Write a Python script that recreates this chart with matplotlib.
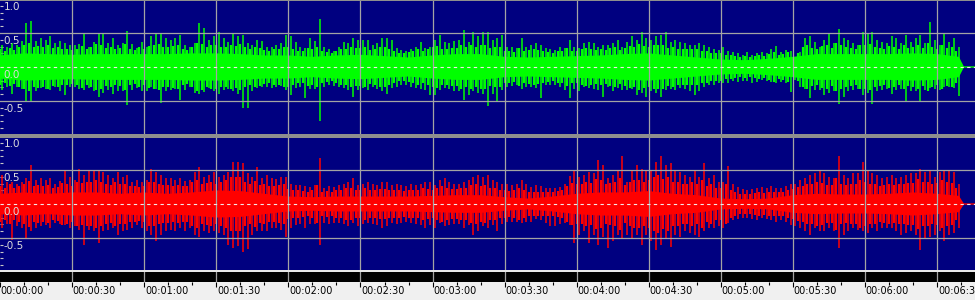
import numpy as np
import matplotlib
matplotlib.use("Agg")
import matplotlib.pyplot as plt

# ---------------- data read off the waveform display ----------------
# peak envelope per 2 s bin (bin centres 1, 3, ..., 399 s), amplitude in % of full scale
green_hi = [32, 30, 35, 33, 38, 64, 67, 38, 42, 40, 45, 36, 38, 35, 32, 32, 34, 50, 30, 37,
            50, 49, 35, 42, 32, 36, 53, 34, 28, 37, 30, 45, 49, 48, 42, 40, 42, 47, 33, 30,
            35, 64, 57, 40, 45, 52, 42, 37, 50, 45, 47, 35, 32, 40, 38, 30, 30, 32, 36, 47,
            45, 37, 30, 28, 42, 38, 71, 30, 27, 24, 30, 37, 35, 42, 40, 40, 40, 32, 35, 42,
            42, 40, 28, 25, 24, 27, 30, 37, 28, 30, 40, 47, 37, 35, 38, 40, 54, 37, 52, 45,
            52, 51, 40, 42, 47, 30, 30, 28, 43, 30, 32, 35, 33, 28, 27, 25, 30, 28, 40, 30,
            28, 35, 37, 35, 30, 32, 32, 35, 40, 30, 37, 45, 40, 52, 42, 40, 45, 47, 51, 37,
            40, 37, 35, 33, 32, 35, 32, 30, 27, 25, 30, 24, 22, 20, 18, 22, 18, 20, 22, 20,
            27, 31, 22, 25, 24, 15, 22, 42, 46, 37, 30, 40, 50, 35, 56, 42, 40, 35, 33, 52,
            50, 51, 40, 37, 35, 45, 42, 35, 47, 37, 42, 47, 35, 66, 40, 32, 49, 37, 43, 30]
green_lo = [34, 30, 39, 30, 32, 51, 52, 36, 31, 33, 34, 30, 36, 41, 30, 30, 32, 34, 31, 36,
            44, 38, 34, 39, 36, 35, 56, 34, 31, 36, 36, 30, 33, 53, 36, 34, 33, 49, 34, 30,
            38, 40, 37, 31, 36, 39, 34, 33, 36, 39, 61, 60, 36, 31, 30, 29, 31, 30, 28, 34,
            41, 31, 30, 46, 33, 32, 79, 29, 27, 28, 29, 31, 34, 44, 34, 31, 34, 29, 33, 36,
            39, 31, 29, 27, 26, 29, 31, 33, 34, 41, 41, 34, 31, 33, 36, 36, 49, 41, 36, 38,
            40, 58, 40, 52, 34, 30, 28, 27, 32, 30, 29, 31, 46, 27, 26, 27, 29, 34, 45, 32,
            36, 29, 31, 33, 34, 44, 30, 36, 31, 34, 34, 33, 41, 38, 44, 36, 38, 44, 34, 32,
            34, 31, 33, 36, 41, 36, 29, 27, 26, 24, 24, 24, 20, 22, 20, 20, 24, 22, 19, 20,
            22, 24, 22, 24, 37, 19, 30, 33, 46, 34, 34, 41, 38, 36, 55, 44, 36, 34, 33, 41,
            38, 55, 36, 34, 33, 39, 34, 33, 50, 36, 36, 52, 34, 31, 33, 34, 29, 30, 31, 42]
red_hi = [43, 32, 33, 30, 33, 38, 57, 36, 38, 35, 38, 30, 34, 48, 40, 35, 52, 42, 50, 50,
          50, 47, 42, 38, 47, 40, 42, 33, 36, 33, 35, 52, 47, 42, 38, 38, 35, 38, 34, 35,
          47, 55, 40, 43, 47, 40, 43, 47, 62, 62, 61, 45, 40, 55, 38, 42, 38, 37, 40, 40,
          30, 28, 28, 26, 25, 28, 67, 24, 26, 25, 28, 30, 33, 38, 28, 30, 33, 30, 28, 32,
          32, 28, 30, 28, 27, 30, 28, 30, 33, 32, 28, 35, 38, 32, 30, 30, 33, 35, 40, 42,
          40, 42, 35, 32, 30, 30, 28, 30, 36, 30, 25, 28, 27, 24, 23, 23, 25, 30, 41, 48,
          40, 42, 47, 45, 64, 57, 38, 42, 48, 71, 33, 48, 57, 52, 48, 48, 62, 71, 57, 60,
          48, 47, 43, 40, 48, 40, 61, 38, 42, 33, 33, 56, 30, 25, 22, 20, 22, 23, 25, 24,
          26, 24, 24, 26, 30, 30, 35, 38, 42, 46, 49, 45, 40, 38, 70, 42, 38, 45, 45, 62,
          48, 45, 42, 38, 40, 42, 38, 40, 42, 45, 45, 51, 47, 50, 40, 47, 50, 48, 47, 30]
red_lo = [36, 30, 53, 33, 36, 50, 40, 36, 33, 31, 36, 28, 30, 31, 36, 33, 38, 60, 38, 40,
          58, 40, 38, 36, 45, 40, 38, 36, 31, 36, 40, 45, 55, 45, 40, 38, 40, 36, 40, 35,
          45, 48, 40, 42, 40, 42, 45, 60, 65, 62, 70, 66, 45, 40, 40, 40, 36, 36, 38, 48,
          36, 31, 30, 36, 30, 30, 60, 28, 30, 28, 28, 30, 33, 28, 33, 30, 28, 30, 31, 36,
          33, 28, 30, 28, 26, 28, 30, 31, 36, 31, 36, 28, 33, 31, 30, 30, 36, 31, 45, 40,
          33, 36, 31, 40, 30, 27, 26, 26, 28, 26, 26, 22, 24, 28, 33, 33, 30, 28, 31, 58,
          45, 40, 58, 45, 60, 48, 65, 55, 45, 50, 45, 50, 45, 60, 45, 55, 68, 60, 50, 63,
          45, 48, 40, 43, 45, 48, 40, 36, 36, 33, 36, 28, 24, 22, 21, 21, 22, 24, 21, 22,
          24, 26, 24, 26, 31, 33, 36, 40, 45, 36, 40, 40, 36, 40, 65, 45, 40, 36, 38, 40,
          43, 36, 40, 36, 36, 36, 40, 45, 42, 40, 45, 68, 50, 48, 45, 40, 55, 45, 43, 36]

# secondary peaks, one per 2 s bin edge (0, 2, ..., 398 s), same scale
green_mid = [26, 24, 28, 25, 29, 33, 35, 30, 31, 29, 32, 28, 30, 27, 26, 25, 27, 31, 26, 29,
             34, 32, 28, 30, 27, 28, 34, 27, 25, 29, 26, 31, 33, 34, 30, 30, 31, 33, 27, 25,
             29, 36, 34, 30, 32, 33, 30, 29, 33, 31, 34, 30, 27, 29, 28, 25, 24, 26, 27, 30,
             29, 27, 24, 23, 28, 26, 30, 24, 22, 21, 24, 27, 27, 30, 28, 28, 29, 25, 27, 29,
             29, 27, 23, 21, 20, 22, 24, 27, 23, 26, 29, 31, 27, 26, 28, 28, 33, 29, 32, 30,
             33, 32, 28, 30, 30, 24, 23, 22, 28, 24, 25, 27, 25, 23, 22, 21, 24, 23, 28, 24,
             24, 27, 28, 27, 25, 27, 25, 28, 29, 25, 28, 31, 30, 34, 31, 30, 32, 33, 33, 28,
             29, 27, 27, 26, 27, 27, 24, 23, 21, 20, 21, 18, 17, 16, 15, 16, 15, 16, 17, 16,
             19, 22, 18, 19, 22, 14, 20, 29, 32, 28, 26, 31, 33, 28, 36, 32, 30, 28, 27, 33,
             33, 34, 30, 28, 27, 31, 30, 27, 32, 28, 30, 33, 28, 36, 29, 26, 32, 28, 30, 24]
red_mid = [27, 24, 30, 24, 26, 30, 34, 27, 28, 26, 28, 23, 25, 31, 29, 27, 33, 31, 32, 33,
           35, 32, 30, 28, 32, 29, 30, 26, 27, 25, 27, 33, 32, 30, 28, 28, 27, 28, 26, 27,
           32, 35, 29, 31, 32, 30, 32, 35, 40, 39, 40, 33, 29, 34, 28, 29, 27, 26, 28, 30,
           22, 20, 20, 19, 18, 20, 28, 18, 19, 18, 20, 21, 23, 24, 20, 21, 23, 21, 20, 22,
           22, 20, 21, 20, 19, 21, 20, 21, 23, 22, 21, 24, 26, 23, 22, 22, 24, 24, 28, 29,
           27, 28, 24, 23, 21, 20, 19, 20, 23, 20, 18, 18, 18, 17, 17, 18, 19, 21, 27, 31,
           29, 29, 33, 31, 37, 35, 30, 31, 33, 38, 28, 33, 36, 35, 33, 35, 40, 42, 37, 39,
           33, 33, 30, 29, 33, 30, 36, 27, 29, 24, 24, 30, 20, 17, 15, 14, 15, 16, 17, 16,
           18, 17, 17, 18, 21, 22, 25, 27, 30, 30, 32, 31, 28, 28, 38, 30, 28, 30, 30, 35,
           32, 30, 30, 27, 28, 29, 28, 30, 30, 31, 31, 37, 33, 33, 30, 31, 35, 32, 31, 24]

# dense body of the waveform, every 10 s (0 ... 400 s), then the silent tail
core_t = [0, 10, 20, 30, 40, 50, 60, 70, 80, 90, 100, 110, 120, 130, 140, 150, 160, 170, 180, 190,
          200, 210, 220, 230, 240, 250, 260, 270, 280, 290, 300, 310, 320, 330, 340, 350, 360, 370,
          380, 390, 399, 401, 405.7]
green_core = [17, 20, 19, 18, 19, 19, 19, 19, 20, 20, 19, 17, 17, 15, 17, 18, 16, 14, 17, 19,
              19, 15, 14, 15, 16, 17, 19, 20, 17, 14, 11, 10, 12, 15, 19, 19, 19, 19, 20, 19, 15, 1, 1]
red_core = [15, 17, 15, 17, 17, 15, 17, 15, 17, 20, 19, 15, 11, 10, 11, 11, 11, 11, 12, 13,
            13, 10, 8, 11, 15, 17, 17, 19, 15, 13, 8, 7, 8, 13, 15, 14, 14, 15, 17, 15, 12, 1, 1]

tick_secs = [0, 30, 60, 90, 120, 150, 180, 210, 240, 270, 300, 330, 360, 390]
tick_labels = ["00:00:00", "00:00:30", "00:01:00", "00:01:30", "00:02:00", "00:02:30", "00:03:00",
               "00:03:30", "00:04:00", "00:04:30", "00:05:00", "00:05:30", "00:06:00", "00:06:30"]
ylabels = [1.0, 0.5, 0.0, -0.5]

T_END = 405.7
W, H = 975, 300
BLUE = "#000080"
GRID = "#a4a4a4"

fig = plt.figure(figsize=(W / 100, H / 100), dpi=100, facecolor="#8e8e8e")


def px_axes(x0, y0, x1, y1):
    return fig.add_axes([x0 / W, 1 - y1 / H, (x1 - x0) / W, (y1 - y0) / H])


bins = np.arange(len(green_hi)) * 2 + 1
edges = np.arange(len(green_mid)) * 2


def channel(ax, hi, lo, mid, core, color, ylo, yhi):
    ax.set_facecolor(BLUE)
    ax.set_xlim(0, T_END)
    ax.set_ylim(ylo, yhi)
    for s in ax.spines.values():
        s.set_visible(False)
    core = np.array(core) / 100
    mid = np.array(mid) / 100
    ax.fill_between(core_t, -core, core, color=color, lw=0, zorder=2)
    ax.vlines(edges, -mid, mid, color=color, lw=1.6, zorder=2)
    ax.vlines(bins, -np.array(lo) / 100, np.array(hi) / 100, color=color, lw=1.1, zorder=2)
    # grid drawn over the signal, as in the editor
    for t in tick_secs[1:]:
        ax.axvline(t, color=GRID, lw=0.9, zorder=3)
    for v in (-0.5, 0.5, 1.0):
        ax.axhline(v, color=GRID, lw=0.9, zorder=3)
    ax.axhline(0, color="#f4e8e8", lw=0.8, ls=(0, (3, 3)), zorder=4)
    ax.set_xticks([])
    ax.set_yticks([v / 10 for v in range(-9, 10) if v % 5])
    ax.tick_params(axis="y", direction="in", length=2.5, width=0.8, color="#c8c8c8", labelleft=False)
    for v in ylabels:
        ax.annotate(f"{v:.1f}", xy=(0, v), xycoords=("axes fraction", "data"),
                    xytext=(2.5, -2.5), textcoords="offset points", ha="left", va="top",
                    fontsize=7.5, color="#dcdcdc", zorder=5, annotation_clip=False)


top = px_axes(0, 1, 975, 134)
channel(top, green_hi, green_lo, green_mid, green_core, "#00ff00", -67 / 68, 66 / 68)
bot = px_axes(0, 138, 975, 270)
channel(bot, red_hi, red_lo, red_mid, red_core, "#ff0000", -66 / 68, 66 / 68)

# white rule, black bar and the time ruler
rule = px_axes(0, 270, 975, 272)
rule.set_facecolor("#e8e8e8")
rule.set_xticks([])
rule.set_yticks([])
for s in rule.spines.values():
    s.set_visible(False)

bar = px_axes(0, 272, 975, 282)
bar.set_facecolor("black")
bar.set_xlim(0, T_END)
bar.set_xticks([])
bar.set_yticks([])
for s in bar.spines.values():
    s.set_visible(False)
for t in tick_secs[1:]:
    bar.axvline(t, color=GRID, lw=0.9)

ruler = px_axes(0, 282, 975, 300)
ruler.set_facecolor("#f0f0f0")
ruler.set_xlim(0, T_END)
ruler.set_ylim(0, 1)
for s in ruler.spines.values():
    s.set_visible(False)
ruler.xaxis.tick_top()
ruler.set_xticks(tick_secs)
ruler.set_xticks(np.arange(10, 406, 10), minor=True)
ruler.tick_params(axis="x", which="major", direction="in", length=3.5, width=0.8, color="black",
                  labeltop=False)
ruler.tick_params(axis="x", which="minor", direction="in", length=1.8, width=0.8, color="black")
ruler.set_yticks([])
for t, lab in zip(tick_secs, tick_labels):
    ruler.annotate(lab, xy=(t, 1), xycoords=("data", "axes fraction"), xytext=(0.5, -3.2),
                   textcoords="offset points", ha="left", va="top", fontsize=7, color="black",
                   annotation_clip=False)

fig.savefig("out.png", dpi=100, facecolor=fig.get_facecolor())
